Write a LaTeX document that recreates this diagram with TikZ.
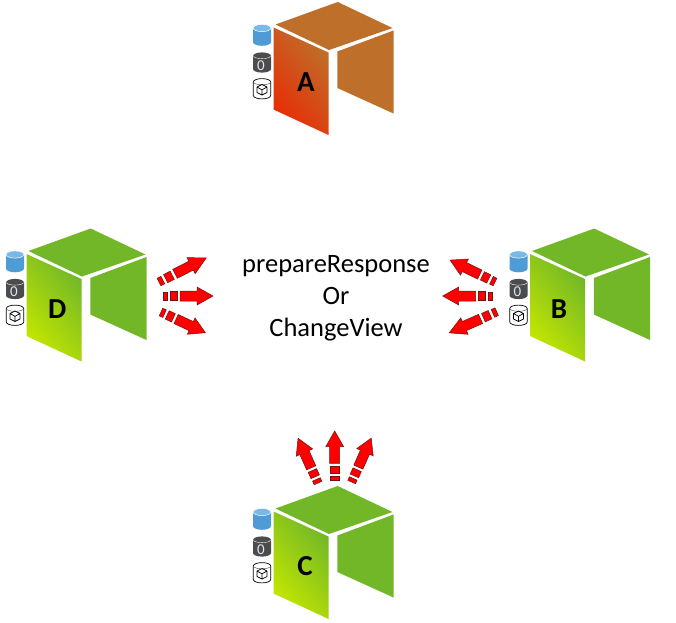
\documentclass[tikz,border=0pt]{standalone}
\usepackage{fontspec}
\setmainfont{Carlito}
\definecolor{grnface}{RGB}{113,183,40}
\definecolor{grnbright}{RGB}{196,230,0}
\definecolor{brnface}{RGB}{190,112,42}
\definecolor{redbright}{RGB}{232,44,6}
\definecolor{cylblue}{RGB}{78,155,214}
\definecolor{cylbluetop}{RGB}{120,185,232}
\definecolor{cylgrey}{RGB}{76,76,76}
\definecolor{arrred}{RGB}{255,0,0}
\definecolor{arredge}{RGB}{110,20,20}
\definecolor{zerotint}{RGB}{215,232,250}
\tikzset{
  segpart/.style={fill=arrred,draw=arredge,line width=0.5pt,line join=miter},
  lettermark/.style={font=\fontsize{29}{30}\selectfont\bfseries,text=black,inner sep=0pt},
  msgline/.style={font=\fontsize{26.5}{28}\selectfont,text=black,inner sep=0pt,anchor=base},
}
% #1 name, #2 dx, #3 dy, #4 face colour, #5 bright colour
\newcommand{\cubeicon}[5]{%
\begin{scope}[shift={(#2,#3)}]
  \fill[#4] (275.5,24.5) -- (337.7,2) -- (392.5,28) -- (329,50) -- cycle;
  \fill[#4] (337.3,51.5) -- (393.5,30.5) -- (393.5,113.5) -- (337.3,88) -- cycle;
  \shade[top color=#4,bottom color=#5,shading angle=-50] (273.5,27.5) -- (328.5,52.5) -- (328.5,135) -- (273.5,109.5) -- cycle;
  % blue drum
  \fill[cylblue] (253,28) -- (253,42) arc[start angle=180,end angle=0,x radius=9,y radius=3.8] -- (271,28) -- cycle;
  \draw[white,line width=0.5pt,fill=cylbluetop] (262,28) ellipse[x radius=8.8,y radius=3.6];
  % grey drum
  \fill[cylgrey] (253,56) arc[start angle=180,end angle=360,x radius=9,y radius=3.6] -- (271,69) arc[start angle=0,end angle=180,x radius=9,y radius=3.6] -- cycle;
  \draw[white,line width=0.4pt] (253.5,56) arc[start angle=180,end angle=0,x radius=8.5,y radius=2.6];
  \node[font=\fontsize{15}{16}\selectfont,text=zerotint,inner sep=0pt] (#1zero) at (261,65.5) {0};
  % white drum with box
  \draw[black,line width=0.7pt,fill=white] (253.3,82) arc[start angle=180,end angle=360,x radius=8.7,y radius=3.4] -- (270.7,95.5) arc[start angle=0,end angle=180,x radius=8.7,y radius=3.4] -- cycle;
  \draw[black!70,line width=0.4pt] (253.3,82) arc[start angle=180,end angle=0,x radius=8.7,y radius=2.8];
  \draw[black,line width=0.7pt,line join=round] (262,84.5) -- (267,87) -- (267,92.5) -- (262,95) -- (257,92.5) -- (257,87) -- cycle (257,87) -- (262,89.8) -- (267,87) (262,89.8) -- (262,95);
\end{scope}}
% #1 x, #2 y, #3 angle, #4 total length
\newcommand{\segarrow}[4]{%
\begin{scope}[shift={(#1,#2)},rotate=#3,x=#4/50*1pt]
  \path[segpart] (0,-4.2) rectangle (4,4.2);
  \path[segpart] (7,-4.6) rectangle (14,4.6);
  \path[segpart] (17,-5) -- (34,-5) -- (34,-9) -- (50,0) -- (34,9) -- (34,5) -- (17,5) -- cycle;
\end{scope}}
\begin{document}
\begin{tikzpicture}[x=1pt,y=-1pt]
\useasboundingbox (0,0) rectangle (676,622);
\cubeicon{cubeA}{0}{0}{brnface}{redbright}
\cubeicon{cubeD}{-247}{226.5}{grnface}{grnbright}
\cubeicon{cubeB}{256.5}{226.5}{grnface}{grnbright}
\cubeicon{cubeC}{0}{484}{grnface}{grnbright}
\node[lettermark] (labA) at (306,82.5) {A};
\node[lettermark] (labD) at (57.3,309.5) {D};
\node[lettermark] (labB) at (559,309.5) {B};
\node[lettermark] (labC) at (305,566.5) {C};
\node[msgline] (msgA) at (336,272) {prepareResponse};
\node[msgline] (msgB) at (336,304) {Or};
\node[msgline] (msgC) at (336,336) {ChangeView};
\segarrow{159}{282}{27}{53}
\segarrow{163}{296}{0}{50}
\segarrow{161}{312}{-25}{49}
\segarrow{495}{282}{154}{50}
\segarrow{492.7}{296}{180}{50}
\segarrow{496.7}{311.7}{204}{52}
\segarrow{318}{483}{114}{49}
\segarrow{334.7}{480}{90}{49}
\segarrow{351.7}{482}{66}{48}
\end{tikzpicture}
\end{document}
